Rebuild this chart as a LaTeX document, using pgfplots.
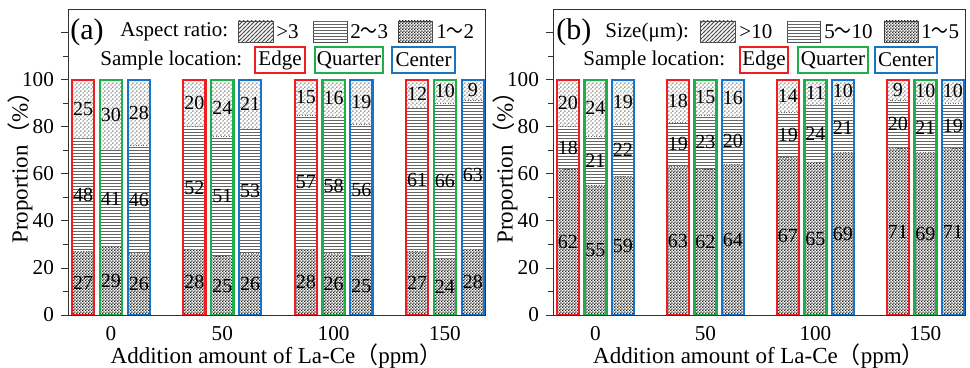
\documentclass[border=0pt]{standalone}
\usepackage{fontspec}
\setmainfont{Liberation Serif}
\newfontfamily\cjk{Noto Sans CJK SC}
\usepackage{graphicx}
\usepackage{pgfplots}
\usepackage{pgfplotstable}
\pgfplotsset{compat=1.18}
\usetikzlibrary{patterns}

\definecolor{edgeRed}{RGB}{240,30,35}
\definecolor{quarGreen}{RGB}{30,175,75}
\definecolor{centBlue}{RGB}{25,115,200}

\pgfdeclarepatternformonly{mydiag}{\pgfqpoint{-0.5pt}{-0.5pt}}{\pgfqpoint{2.5pt}{2.5pt}}{\pgfqpoint{2pt}{2pt}}{%
  \pgfsetlinewidth{0.45pt}%
  \pgfpathmoveto{\pgfqpoint{-0.5pt}{-0.5pt}}%
  \pgfpathlineto{\pgfqpoint{2.5pt}{2.5pt}}%
  \pgfusepath{stroke}}
\pgfdeclarepatternformonly{myhlines}{\pgfqpoint{-0.5pt}{0pt}}{\pgfqpoint{1.5pt}{1.5pt}}{\pgfqpoint{1pt}{1.5pt}}{%
  \pgfsetlinewidth{0.55pt}%
  \pgfpathmoveto{\pgfqpoint{-0.5pt}{0.75pt}}%
  \pgfpathlineto{\pgfqpoint{1.5pt}{0.75pt}}%
  \pgfusepath{stroke}}
\pgfdeclarepatternformonly{mychecker}{\pgfqpoint{0pt}{0pt}}{\pgfqpoint{1.6pt}{1.6pt}}{\pgfqpoint{1.6pt}{1.6pt}}{%
  \pgfpathrectangle{\pgfqpoint{0pt}{0pt}}{\pgfqpoint{0.8pt}{0.8pt}}%
  \pgfpathrectangle{\pgfqpoint{0.8pt}{0.8pt}}{\pgfqpoint{0.8pt}{0.8pt}}%
  \pgfusepath{fill}}

% Panel (a): aspect ratio  (lo = 1~2, mid = 2~3, hi = >3)
\pgfplotstableread{
x lo mid hi
-12.5 27 48 25
37.5 28 52 20
87.5 28 57 15
137.5 27 61 12
}\aEdge
\pgfplotstableread{
x lo mid hi
0 29 41 30
50 25 51 24
100 26 58 16
150 24 66 10
}\aQuar
\pgfplotstableread{
x lo mid hi
12.5 26 46 28
62.5 26 53 21
112.5 25 56 19
162.5 28 63 9
}\aCent
% Panel (b): size (lo = 1~5, mid = 5~10, hi = >10)
\pgfplotstableread{
x lo mid hi
-12.5 62 18 20
37.5 63 19 18
87.5 67 19 14
137.5 71 20 9
}\bEdge
\pgfplotstableread{
x lo mid hi
0 55 21 24
50 62 23 15
100 65 24 11
150 69 21 10
}\bQuar
\pgfplotstableread{
x lo mid hi
12.5 59 22 19
62.5 64 20 16
112.5 69 21 10
162.5 71 19 10
}\bCent

\pgfplotsset{
  segbar/.style={ybar, bar width=10, bar shift=0pt, draw=black!60, densely dotted, line width=0.3pt, fill=white},
  vlabel/.style={only marks, mark=*, mark size=0pt, mark options={draw=white, fill=white, line width=0.01pt},
    nodes near coords, point meta=explicit symbolic,
    every node near coord/.append style={anchor=center, font=\fontsize{10}{10}\selectfont, text=black, inner sep=0pt, opacity=1}},
  panel/.style={
    scale only axis, width=#1, height=153pt, anchor=south west,
    xmin=-19.3, xmax=168, ymin=0, ymax=130,
    xtick={0,50,100,150}, xtick style={draw=none},
    ytick={0,20,...,120}, yticklabels={0,20,40,60,80,100,{}},
    minor y tick num=1, ytick pos=left, tick align=outside,
    major tick length=3.5pt, minor tick length=2.5pt,
    axis line style={black!80}, every tick/.style={black!80},
    tick label style={font=\fontsize{10.6}{10.6}\selectfont},
    xticklabel style={yshift=1.5pt},
    /pgf/number format/assume math mode=true,
    label style={font=\fontsize{11.5}{11.5}\selectfont},
    xlabel={Addition amount of La-Ce{\cjk\smash{（}}ppm{\cjk\smash{）}}},
    ylabel={Proportion{\cjk （}\%{\cjk ）}},
    xlabel style={yshift=3.5pt},
    ylabel style={yshift=-12pt},
  }
}

\newcommand\stackgroup[2]{%
  \addplot[segbar, postaction={pattern=mydiag, pattern color=black!70}] table[x=x, y expr=\thisrow{lo}+\thisrow{mid}+\thisrow{hi}] {#1};
  \addplot[segbar, postaction={pattern=myhlines, pattern color=black!60}] table[x=x, y expr=\thisrow{lo}+\thisrow{mid}] {#1};
  \addplot[segbar, postaction={pattern=mychecker, pattern color=black!85}] table[x=x, y=lo] {#1};
  \addplot[ybar, bar width=10, bar shift=0pt, draw=#2, line width=1.1pt, fill=none] table[x=x, y expr=\thisrow{lo}+\thisrow{mid}+\thisrow{hi}] {#1};
  \addplot[vlabel] table[x=x, y expr=\thisrow{lo}/2, meta=lo] {#1};
  \addplot[vlabel] table[x=x, y expr=\thisrow{lo}+\thisrow{mid}/2, meta=mid] {#1};
  \addplot[vlabel] table[x=x, y expr=\thisrow{lo}+\thisrow{mid}+\thisrow{hi}/2, meta=hi] {#1};
}
\newcommand\tl{\scalebox{0.8}[1]{\cjk ～}}

\begin{document}
\begin{tikzpicture}
\path[use as bounding box] (0,0) rectangle (485pt,184pt);

\begin{axis}[panel=208.5pt, at={(34pt,26.5pt)}]
  \stackgroup{\aEdge}{edgeRed}
  \stackgroup{\aQuar}{quarGreen}
  \stackgroup{\aCent}{centBlue}
\end{axis}

\begin{axis}[panel=206pt, at={(276.5pt,26.5pt)}]
  \stackgroup{\bEdge}{edgeRed}
  \stackgroup{\bQuar}{quarGreen}
  \stackgroup{\bCent}{centBlue}
\end{axis}

\tikzset{lg/.style={anchor=west, font=\fontsize{10.5}{12}\selectfont, inner sep=0pt},
         sw/.style={draw=black!70, line width=0.4pt, fill=white}}

% ---- legend (a)
\node[lg, font=\fontsize{15}{15}\selectfont] at (35pt,168pt) {(a)};
\node[lg] at (60pt,168pt) {Aspect ratio:};
\draw[sw, postaction={pattern=mydiag, pattern color=black!70}] (119pt,163pt) rectangle (136.5pt,173.5pt);
\node[lg] at (138pt,168pt) {>3};
\draw[sw, postaction={pattern=myhlines, pattern color=black!60}] (156.5pt,163pt) rectangle (173.5pt,173.5pt);
\node[lg] at (175pt,168pt) {2\tl 3};
\draw[sw, postaction={pattern=mychecker, pattern color=black!85}] (199pt,163pt) rectangle (216pt,173.5pt);
\node[lg] at (218pt,168pt) {1\tl 2};

\node[lg] at (50pt,154pt) {Sample location:};
\draw[edgeRed, line width=1pt] (127.5pt,147.5pt) rectangle (152.5pt,160.5pt);
\node[lg, anchor=center] at (140pt,154pt) {Edge};
\draw[quarGreen, line width=1pt] (157.5pt,147.5pt) rectangle (191.5pt,160.5pt);
\node[lg, anchor=center] at (174.5pt,154pt) {Quarter};
\draw[centBlue, line width=1pt] (196pt,147.5pt) rectangle (227.5pt,160.5pt);
\node[lg, anchor=center] at (211.75pt,154pt) {Center};

% ---- legend (b)
\node[lg, font=\fontsize{15}{15}\selectfont] at (278pt,168pt) {(b)};
\node[lg] at (302.5pt,168pt) {Size(μm):};
\draw[sw, postaction={pattern=mydiag, pattern color=black!70}] (350pt,163pt) rectangle (367.5pt,173.5pt);
\node[lg] at (369.5pt,168pt) {>10};
\draw[sw, postaction={pattern=myhlines, pattern color=black!60}] (393.5pt,163pt) rectangle (410pt,173.5pt);
\node[lg] at (412pt,168pt) {5\tl 10};
\draw[sw, postaction={pattern=mychecker, pattern color=black!85}] (442pt,163pt) rectangle (459pt,173.5pt);
\node[lg] at (460.5pt,168pt) {1\tl 5};

\node[lg] at (291.5pt,154pt) {Sample location:};
\draw[edgeRed, line width=1pt] (370pt,147.5pt) rectangle (394pt,160.5pt);
\node[lg, anchor=center] at (382pt,154pt) {Edge};
\draw[quarGreen, line width=1pt] (399pt,147.5pt) rectangle (434pt,160.5pt);
\node[lg, anchor=center] at (416.5pt,154pt) {Quarter};
\draw[centBlue, line width=1pt] (437.5pt,147.5pt) rectangle (468.5pt,160.5pt);
\node[lg, anchor=center] at (453pt,154pt) {Center};
\end{tikzpicture}
\end{document}
